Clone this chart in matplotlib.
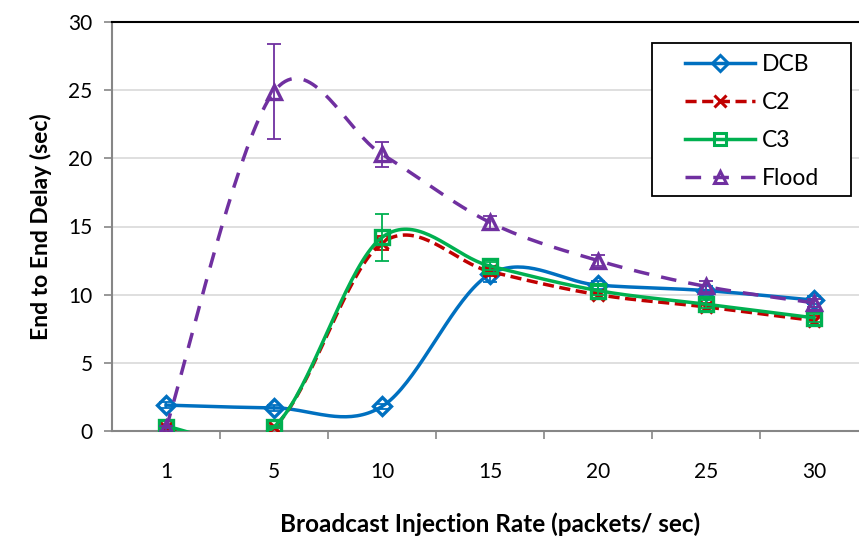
import numpy as np
import matplotlib

matplotlib.use("Agg")
import matplotlib.pyplot as plt
from matplotlib.lines import Line2D
from matplotlib.patches import Rectangle

plt.rcParams["font.family"] = ["Lato", "DejaVu Sans"]

# broadcast injection rates (categorical axis)
RATES = ["1", "5", "10", "15", "20", "25", "30"]

# mean end-to-end delay (sec) per scheme
DCB = [1.9, 1.7, 1.8, 11.5, 10.7, 10.3, 9.6]
C2 = [0.2, 0.3, 13.8, 11.7, 10.0, 9.1, 8.1]
C3 = [0.3, 0.3, 14.2, 12.1, 10.3, 9.3, 8.3]
FLOOD = [0.2, 24.9, 20.3, 15.3, 12.5, 10.6, 9.4]

# error bar half-widths (sec)
DCB_ERR = [0.2, 0.2, 0.2, 0.6, 0.3, 0.3, 0.3]
C2_ERR = [0.1, 0.1, 0.5, 0.3, 0.3, 0.3, 0.3]
C3_ERR = [0.1, 0.1, 1.7, 0.3, 0.3, 0.3, 0.3]
FLOOD_ERR = [0.2, 3.5, 0.9, 0.5, 0.4, 0.4, 0.3]


def smooth(xs, ys, n=40):
    """Catmull-Rom style Bezier through the points (spreadsheet 'smoothed line')."""
    pts = np.column_stack([np.asarray(xs, float), np.asarray(ys, float)])
    out = []
    t = np.linspace(0, 1, n)[:, None]
    for i in range(len(pts) - 1):
        p0 = pts[max(i - 1, 0)]
        p1 = pts[i]
        p2 = pts[i + 1]
        p3 = pts[min(i + 2, len(pts) - 1)]
        c1 = p1 + (p2 - p0) / 6
        c2 = p2 - (p3 - p1) / 6
        seg = (1 - t) ** 3 * p1 + 3 * (1 - t) ** 2 * t * c1 \
            + 3 * (1 - t) * t ** 2 * c2 + t ** 3 * p2
        out.append(seg if i == 0 else seg[1:])
    seg = np.vstack(out)
    return seg[:, 0], seg[:, 1]


fig = plt.figure(figsize=(8.59, 5.38), dpi=100)
ax = fig.add_axes([112 / 859, 107 / 538, 756 / 859, 409 / 538])

x = np.arange(len(RATES))
series = [
    ("DCB", DCB, DCB_ERR, "#0070C0", "D", "-", 9.5),
    ("C2", C2, C2_ERR, "#C00000", "x", (0, (3.2, 1.6)), 9),
    ("C3", C3, C3_ERR, "#00B050", "s", "-", 9.5),
    ("Flood", FLOOD, FLOOD_ERR, "#7030A0", "^", (0, (4.5, 3.5)), 9.5),
]

handles = []
for k, (name, ys, err, color, marker, ls, ms) in enumerate(series):
    z = 3 + 0.1 * k
    sx, sy = smooth(x, ys)
    ax.plot(sx, sy, color=color, lw=2.5, ls=ls, zorder=z)
    ax.errorbar(x, ys, yerr=err, fmt="none", ecolor=color, elinewidth=1.3,
                capsize=5, capthick=1.3, zorder=z)
    ax.plot(x, ys, ls="none", marker=marker, ms=ms, mfc="none", mec=color,
            mew=2.4, zorder=z)
    handles.append(Line2D([], [], color=color, lw=2.5, ls=ls, marker=marker,
                          ms=8, mfc="none", mec=color, mew=2.2))

ax.set_xlim(-0.5, 6.5)
ax.set_ylim(0, 30)
ax.set_yticks(np.arange(0, 31, 5))
ax.set_xticks(x)
ax.set_xticklabels(RATES)
ax.set_xticks(np.arange(0.5, 6.5, 1), minor=True)
ax.tick_params(axis="x", which="major", length=0, labelsize=15, pad=22)
ax.tick_params(axis="x", which="minor", length=6, width=1.2, color="#868686")
ax.tick_params(axis="y", length=6, width=1.2, color="#868686", labelsize=15, pad=8)

ax.grid(axis="y", color="#D9D9D9", lw=1.2)
ax.set_axisbelow(True)
for side in ("left", "bottom"):
    ax.spines[side].set_color("#868686")
    ax.spines[side].set_linewidth(1.5)
ax.spines["top"].set_color("black")
ax.spines["top"].set_linewidth(1.5)
ax.spines["right"].set_visible(False)

ax.set_ylabel("End to End Delay (sec)", fontsize=16.5, fontweight="bold", labelpad=12)
ax.set_xlabel("Broadcast Injection Rate (packets/ sec)", fontsize=17.5,
              fontweight="bold", labelpad=22)

# legend box drawn separately so the entries can sit inset from its left edge
ax.add_patch(Rectangle((652 / 859, 1 - 196 / 538), 199 / 859, 153 / 538,
                       transform=fig.transFigure, facecolor="white",
                       edgecolor="black", lw=1.3, zorder=4, clip_on=False))
ax.legend(handles, [s[0] for s in series], loc="upper left",
          bbox_to_anchor=(685 / 859, 1 - 54 / 538), bbox_transform=fig.transFigure,
          fontsize=16.5, frameon=False, handlelength=3.05, labelspacing=0.74,
          borderpad=0, handletextpad=0.3, borderaxespad=0)

fig.savefig("out.png", dpi=100)
